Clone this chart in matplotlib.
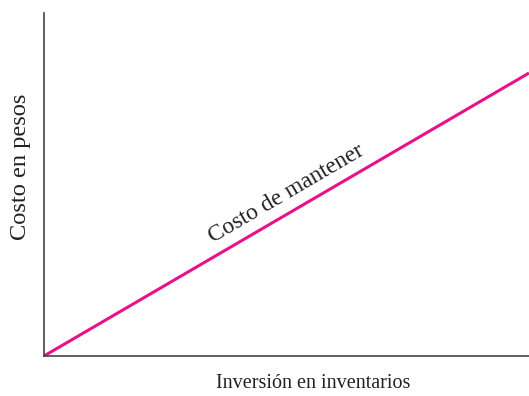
import matplotlib
matplotlib.use("Agg")
import matplotlib.pyplot as plt

# inversion en inventarios (relative) vs costo de mantener
inversion = [0, 10]
costo_mantener = [0, 8.25]

x_label = "Inversión en inventarios"
y_label = "Costo en pesos"
line_label = "Costo de mantener"

plt.rcParams["font.family"] = ["Liberation Serif", "DejaVu Serif"]

fig = plt.figure(figsize=(5.29, 3.96), dpi=100)
ax = fig.add_axes([44 / 529, 40 / 396, 485 / 529, 343 / 396])

ax.plot(inversion, costo_mantener, color="#e8118a", lw=2.2, solid_capstyle="butt")

ax.set_xlim(0, 10)
ax.set_ylim(0, 10)
ax.set_xticks([])
ax.set_yticks([])
ax.spines["right"].set_visible(False)
ax.spines["top"].set_visible(False)
for s in ("left", "bottom"):
    ax.spines[s].set_color("#444444")
    ax.spines[s].set_linewidth(1.2)

ax.text(5.05, 4.6, line_label, rotation=30.3, rotation_mode="anchor",
        ha="center", va="baseline", fontsize=16.9, color="#222222")

fig.text(313 / 529, 1 - 384 / 396, x_label, ha="center", va="center",
         fontsize=14.5, color="#222222")
fig.text(21 / 529, 1 - 167 / 396, y_label, ha="center", va="center",
         rotation=90, fontsize=17.6, color="#222222")

fig.savefig("out.png", dpi=100)
